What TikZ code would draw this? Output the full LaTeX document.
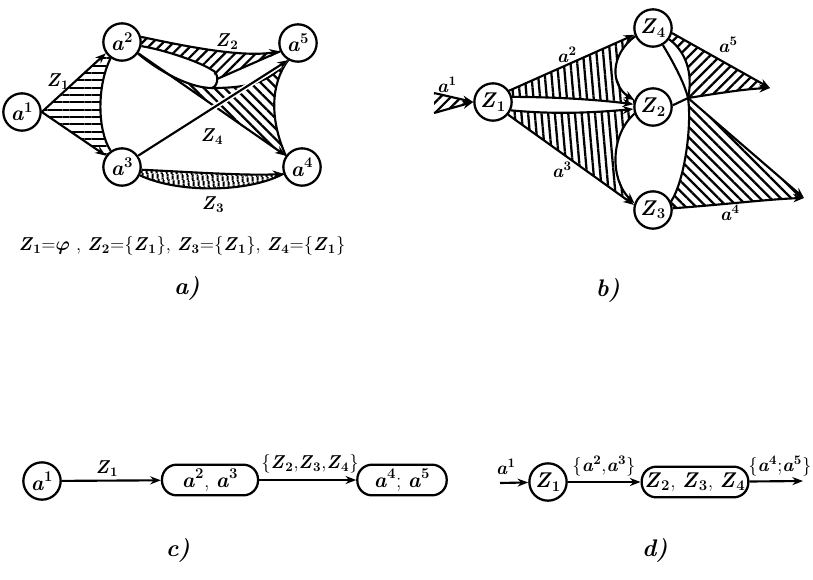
\documentclass[tikz,border=0pt]{standalone}
\usetikzlibrary{arrows.meta,patterns.meta,backgrounds}
\newcommand{\ai}[1]{\textbf{\textit{a}}\textsuperscript{\textbf{#1}}}
\newcommand{\zi}[1]{\textbf{\textit{Z}}\textsubscript{\textbf{#1}}}
\tikzset{
  pnode/.style={circle,draw,fill=white,line width=1.7pt,minimum size=28pt,inner sep=0pt,font=\fontsize{16}{16}\selectfont},
  rbox/.style={rectangle,rounded corners=11pt,draw,fill=white,line width=1.7pt,minimum height=23pt,inner sep=2pt,font=\fontsize{16}{16}\selectfont},
  edge/.style={line width=1.6pt},
  arr/.style={edge,-{Stealth[length=8pt,width=6pt]}},
  hatchNE/.style={pattern={Lines[angle=45,distance=5.5pt,line width=1.7pt]}},
  hatchNW/.style={pattern={Lines[angle=-45,distance=5.5pt,line width=1.7pt]}},
  hatchH/.style={pattern={Lines[angle=0,distance=5.5pt,line width=1.7pt]}},
  hatchV/.style={pattern={Lines[angle=95,distance=5pt,line width=1.7pt]}},
  hatchT/.style={pattern={Lines[angle=100,distance=4pt,line width=1.5pt]}},
  lbl/.style={font=\fontsize{14}{14}\selectfont,inner sep=1pt},
  panel/.style={font=\fontsize{18}{18}\selectfont\bfseries\itshape,inner sep=1pt},
}
\begin{document}
\begin{tikzpicture}[x=0.75pt,y=-0.75pt]
\path[use as bounding box] (0,0) rectangle (813,579);

% ---------------- a) ----------------
\node[pnode] (a1) at (22,112) {\ai1};
\node[pnode] (a2) at (122,42) {\ai2};
\node[pnode] (a3) at (122,167) {\ai3};
\node[pnode] (a5) at (298,43) {\ai5};
\node[pnode] (a4) at (302,167) {\ai4};
\coordinate (bt) at (212,70);
\coordinate (bb) at (212,88);
\coordinate (be) at (217,79);

\begin{pgfonlayer}{background}
\path[hatchH] (a1.east) -- (a2.215) -- (a2.235) .. controls (97,85) and (97,130) .. (a3.125) -- (a3.145) -- cycle;
\path[hatchNE] (a2.15) .. controls (180,45) and (240,58) .. (a5.205) -- (be) -- (bt) .. controls (200,62) and (165,50) .. (a2.-12) -- cycle;
\path[hatchNW] (a2.-36) -- (a4.145) .. controls (270,120) and (270,85) .. (a5.240) .. controls (270,82) and (250,88) .. (bb) .. controls (190,88) and (160,72) .. (a2.-36) -- cycle;
\path[hatchT] (a3.-8) .. controls (190,172) and (250,176) .. (a4.200) .. controls (250,192) and (180,194) .. (a3.-25) -- cycle;
\end{pgfonlayer}

\draw[arr] (a1.east) -- (a2.215);
\draw[arr] (a1.east) -- (a3.145);
\draw[edge] (a2.235) .. controls (97,85) and (97,130) .. (a3.125);
\draw[arr] (a2.15) .. controls (180,45) and (240,58) .. (a5.205);
\draw[edge] (a2.-12) .. controls (165,50) and (200,62) .. (bt) .. controls (219,72) and (219,86) .. (bb) .. controls (190,88) and (160,72) .. (a2.-36);
\draw[edge] (be) -- (a5.205);
\draw[arr] (a2) -- (a4);
\draw[edge] (a4.145) .. controls (270,120) and (270,85) .. (a5.240);
\draw[edge] (a5.240) .. controls (270,82) and (250,88) .. (bb);
\draw[arr,preaction={draw=white,line width=4pt}] (a3.35) -- (a5.240);
\draw[arr] (a3.-8) .. controls (190,172) and (250,176) .. (a4.200);
\draw[edge] (a4.200) .. controls (250,192) and (180,194) .. (a3.-25);

\node[lbl] (lz1) at (58,82) {\zi1};
\node[lbl] (lz2) at (227,42) {\zi2};
\node[lbl] (lz4) at (212,137) {\zi4};
\node[lbl] (lz3) at (213,205) {\zi3};
\node[lbl] (form) at (182,246) {\zi1=\mbox{\boldmath$\varphi$} , \zi2=\{\zi1\}, \zi3=\{\zi1\}, \zi4=\{\zi1\}};
\node[panel] (pa) at (187,288) {a)};

% ---------------- b) ----------------
\node[pnode] (z1) at (493,102) {\zi1};
\node[pnode] (z4) at (653,28) {\zi4};
\node[pnode] (z2) at (653,107) {\zi2};
\node[pnode] (z3) at (653,210) {\zi3};
\coordinate (in1) at (434,93);
\coordinate (in2) at (434,113);
\coordinate (cross) at (688,98);
\coordinate (a5t) at (770,88);
\coordinate (a4t) at (804,198);

\begin{pgfonlayer}{background}
\path[hatchNE] (in1) -- (z1.west) -- (in2) -- cycle;
\path[hatchV] (z1.35) -- (z4.200) .. controls (610,55) and (610,85) .. (z2.160) -- (z2.172) .. controls (600,100) and (560,97) .. (z1.15) -- cycle;
\path[hatchV] (z1.-25) .. controls (560,115) and (600,112) .. (z2.186) -- (z2.200) .. controls (610,135) and (610,180) .. (z3.162) -- (z1.-40) -- cycle;
\path[hatchNE] (z4.-15) -- (a5t) .. controls (745,89) and (720,93) .. (cross) .. controls (692,80) and (690,55) .. (z4.-35) -- cycle;
\path[hatchNW] (cross) -- (a4t) .. controls (770,199) and (720,205) .. (z3.5) -- (z3.25) .. controls (685,180) and (692,125) .. (cross) -- cycle;
\end{pgfonlayer}

\draw[arr] (in1) -- (z1.west);
\draw[arr] (in2) -- (z1.west);
\draw[arr] (z1.35) -- (z4.200);
\draw[arr] (z1.15) .. controls (560,97) and (600,100) .. (z2.172);
\draw[arr] (z1.-25) .. controls (560,115) and (600,112) .. (z2.186);
\draw[arr] (z1.-40) -- (z3.165);
\draw[arr] (z4.205) .. controls (610,55) and (610,85) .. (z2.160);
\draw[arr] (z2.200) .. controls (610,135) and (610,180) .. (z3.160);
\draw[arr] (z4.-15) -- (a5t);
\draw[edge] (z4.-35) .. controls (690,55) and (692,80) .. (cross);
\draw[edge] (z4.-60) .. controls (675,65) and (685,85) .. (cross) .. controls (692,125) and (685,180) .. (z3.25);
\draw[arr] (cross) -- (a4t);
\draw[arr] (z2.5) -- (cross) .. controls (720,93) and (745,89) .. (a5t);
\draw[arr] (z3.5) .. controls (720,205) and (770,199) .. (a4t);

\node[lbl] (lb1) at (447,85) {\ai1};
\node[lbl] (lb2) at (567,55) {\ai2};
\node[lbl] (lb3) at (562,170) {\ai3};
\node[lbl] (lb5) at (728,45) {\ai5};
\node[lbl] (lb4) at (730,213) {\ai4};
\node[panel] (pb) at (608,290) {b)};

% ---------------- c) ----------------
\node[pnode] (c1) at (42,481) {\ai1};
\node[rbox,minimum width=72pt] (c2) at (210,480) {\ai2, \ai3};
\node[rbox,minimum width=67pt] (c3) at (402,480) {\ai4; \ai5};
\draw[arr] (c1) -- (c2);
\draw[arr] (c2) -- (c3);
\node[lbl] (lc1) at (107,469) {\zi1};
\node[lbl] (lc2) at (310,464) {\{\zi2,\zi3,\zi4\}};
\node[panel] (pc) at (178,550) {c)};

% ---------------- d) ----------------
\coordinate (din) at (500,483);
\node[pnode] (d1) at (548,482) {\zi1};
\node[rbox,minimum width=80pt] (d2) at (695,482) {\zi2, \zi3, \zi4};
\coordinate (dout) at (803,481);
\draw[arr] (din) -- (d1);
\draw[arr] (d1) -- (d2);
\draw[arr] (d2) -- (dout);
\node[lbl] (ld1) at (506,467) {\ai1};
\node[lbl] (ld2) at (604,466) {\{\ai2,\ai3\}};
\node[lbl,anchor=east] (ld3) at (813,466) {\{\ai4;\ai5\}};
\node[panel] (pd) at (655,550) {d)};
\end{tikzpicture}
\end{document}
